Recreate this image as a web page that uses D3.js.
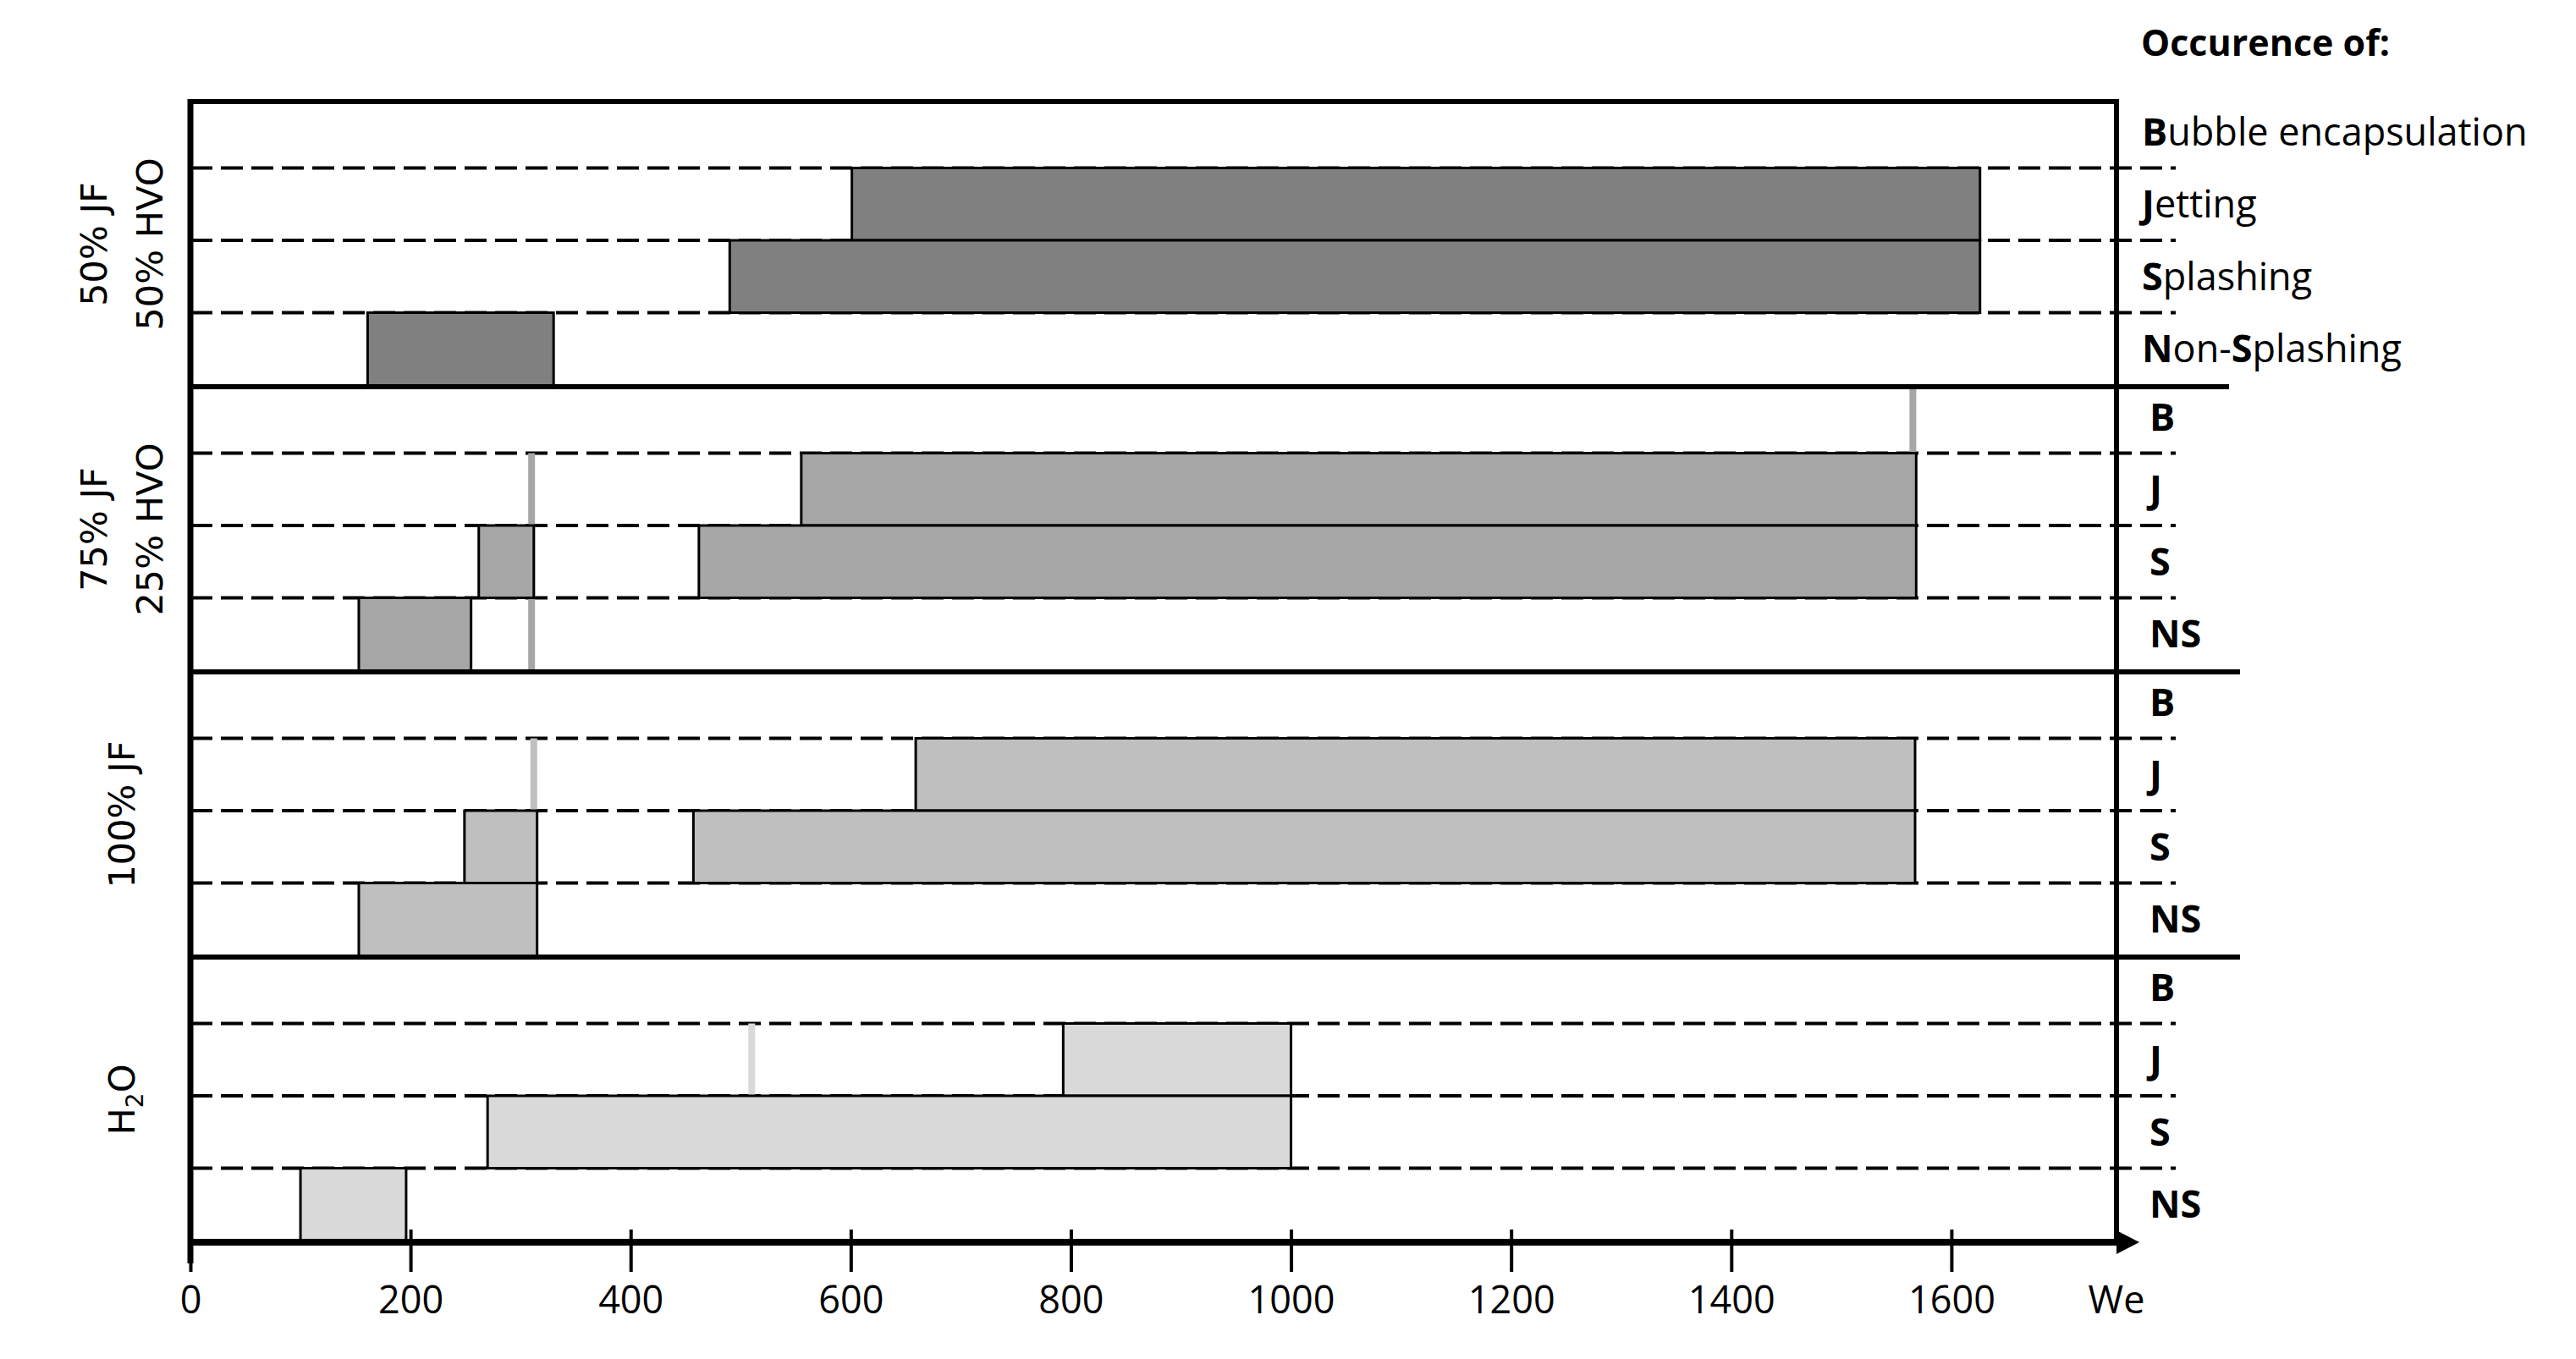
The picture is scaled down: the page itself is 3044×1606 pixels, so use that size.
<!DOCTYPE html>
<html>
<head>
<meta charset="utf-8">
<title>Impact regimes vs We</title>
<script src="https://cdn.jsdelivr.net/npm/d3@7"></script>
<style>
  body { margin: 0; background: #fff; }
  text { font-family: "Open Sans", sans-serif; fill: #000; }
  .fuel { font-family: "DejaVu Sans", sans-serif; }
</style>
</head>
<body>
<script>
// fuel blends, one panel each (top to bottom)
var fuels = ["50JF", "75JF", "100JF", "H2O"];
var fuelLabels = [["50% JF", "50% HVO"], ["75% JF", "25% HVO"], ["100% JF"], ["H_2O"]];
var fuelColors = ["#808080", "#a6a6a6", "#bfbfbf", "#d9d9d9"];

// regimes inside every panel (top to bottom)
var regimes = ["B", "J", "S", "NS"];
// label parts, [text, bold]
var regimeNames = [
  [["B", 1], ["ubble encapsulation", 0]],
  [["J", 1], ["etting", 0]],
  [["S", 1], ["plashing", 0]],
  [["N", 1], ["on-", 0], ["S", 1], ["plashing", 0]]
];

var weTicks = [0, 200, 400, 600, 800, 1000, 1200, 1400, 1600];

// We ranges where a regime was seen: [regime, from, to]
var jf50 = [["J", 601, 1626], ["S", 490, 1626], ["NS", 161, 330]];
var jf75 = [["J", 555, 1568], ["S", 262, 312], ["S", 462, 1568], ["NS", 153, 255]];
var jf100 = [["J", 659, 1567], ["S", 249, 315], ["S", 457, 1567], ["NS", 153, 315]];
var water = [["J", 793, 1000], ["S", 270, 1000], ["NS", 100, 196]];
var ranges = [jf50, jf75, jf100, water];

// thin grey marks: [panel, We, first regime, last regime]
var bubbleMarks = [[1, 310, "J", "NS"], [1, 1565, "B", "B"], [2, 312, "J", "J"], [3, 510, "J", "J"]];

// canvas
var width = 3044, height = 1606;
var xLeft = 225, xRight = 2501, yTop = 120, yBottom = 1468;

var svg = d3.select("body").append("svg")
    .attr("width", width)
    .attr("height", height);

var x = d3.scaleLinear().domain([0, 1750]).range([xLeft, xRight]);
var yPanel = d3.scaleBand().domain(fuels).range([yTop, yBottom]);
var panelH = yPanel.bandwidth();
var yRow = d3.scaleBand().domain(regimes).range([-7, panelH - 2]);

// dashed lines between the regimes
fuels.forEach(function(f) {
    svg.selectAll(null)
        .data(regimes.slice(1))
        .enter()
        .append("line")
            .attr("x1", xLeft)
            .attr("x2", xRight + 70)
            .attr("y1", function(r) { return yPanel(f) + yRow(r); })
            .attr("y2", function(r) { return yPanel(f) + yRow(r); })
            .attr("stroke", "#000")
            .attr("stroke-width", 4)
            .attr("stroke-dasharray", "26,10");
});

// grey marks
svg.selectAll(".mark")
    .data(bubbleMarks)
    .enter()
    .append("line")
        .attr("class", "mark")
        .attr("x1", function(d) { return x(d[1]); })
        .attr("x2", function(d) { return x(d[1]); })
        .attr("y1", function(d) { return yPanel(fuels[d[0]]) + Math.max(yRow(d[2]), 0); })
        .attr("y2", function(d) { return yPanel(fuels[d[0]]) + yRow(d[3]) + yRow.bandwidth(); })
        .attr("stroke", function(d) { return fuelColors[d[0]]; })
        .attr("stroke-width", 8);

// range bars
ranges.forEach(function(list, i) {
    svg.selectAll(null)
        .data(list)
        .enter()
        .append("rect")
            .attr("x", function(d) { return x(d[1]); })
            .attr("width", function(d) { return x(d[2]) - x(d[1]); })
            .attr("y", function(d) { return yPanel(fuels[i]) + yRow(d[0]); })
            .attr("height", function(d) { return d[0] == "NS" ? yRow.bandwidth() + 2 : yRow.bandwidth(); })
            .attr("fill", fuelColors[i])
            .attr("stroke", "#000")
            .attr("stroke-width", 3);
});

// frame
svg.append("line")
    .attr("x1", xLeft).attr("x2", xLeft)
    .attr("y1", yTop - 3).attr("y2", yBottom + 25)
    .attr("stroke", "#000").attr("stroke-width", 7);
svg.append("line")
    .attr("x1", xRight).attr("x2", xRight)
    .attr("y1", yTop - 3).attr("y2", yBottom)
    .attr("stroke", "#000").attr("stroke-width", 6);
svg.append("line")
    .attr("x1", xLeft).attr("x2", xRight + 3)
    .attr("y1", yTop).attr("y2", yTop)
    .attr("stroke", "#000").attr("stroke-width", 6);
svg.selectAll(".sep")
    .data(fuels.slice(1))
    .enter()
    .append("line")
        .attr("class", "sep")
        .attr("x1", xLeft)
        .attr("x2", function(d, i) { return i == 0 ? xRight + 133 : xRight + 146; })
        .attr("y1", function(d) { return yPanel(d); })
        .attr("y2", function(d) { return yPanel(d); })
        .attr("stroke", "#000")
        .attr("stroke-width", 6);

// x axis
var xAxis = d3.axisBottom(x).tickValues(weTicks).tickSize(35).tickFormat(d3.format("d"));
var ax = svg.append("g")
    .attr("transform", "translate(0," + yBottom + ")")
    .call(xAxis);
ax.select(".domain").remove();
ax.selectAll(".tick line")
    .attr("y1", -15)
    .attr("stroke", "#000")
    .attr("stroke-width", 4);
ax.selectAll(".tick text")
    .attr("y", 84)
    .attr("dy", 0)
    .style("font-family", "'Open Sans', sans-serif")
    .style("font-size", "45px")
    .attr("fill", "#000");

svg.append("line")
    .attr("x1", xLeft).attr("x2", xRight)
    .attr("y1", yBottom).attr("y2", yBottom)
    .attr("stroke", "#000").attr("stroke-width", 8);
svg.append("path")
    .attr("d", "M" + xRight + "," + (yBottom - 14) + "L" + (xRight + 27) + "," + yBottom + "L" + xRight + "," + (yBottom + 14) + "Z")
    .attr("fill", "#000");
svg.append("text")
    .attr("x", xRight)
    .attr("y", yBottom + 84)
    .attr("text-anchor", "middle")
    .style("font-size", "45px")
    .text("We");

// right hand regime labels
svg.append("text")
    .attr("x", xRight + 29)
    .attr("y", 66)
    .style("font-size", "43px")
    .style("font-weight", "bold")
    .text("Occurence of:");

fuels.forEach(function(f, i) {
    regimes.forEach(function(r, j) {
        var t = svg.append("text")
            .attr("x", i == 0 ? xRight + 30 : xRight + 39)
            .attr("y", yPanel(f) + yRow(r) + yRow.bandwidth() / 2)
            .attr("dy", "0.36em")
            .style("font-size", "45px");
        var parts = i == 0 ? regimeNames[j] : [[r, 1]];
        parts.forEach(function(p) {
            t.append("tspan")
                .style("font-weight", p[1] ? "bold" : "normal")
                .text(p[0]);
        });
    });
});

// left hand fuel labels (rotated)
fuelLabels.forEach(function(lines, i) {
    var cy = yPanel(fuels[i]) + panelH / 2;
    var g = svg.append("g")
        .attr("transform", "translate(0," + cy + ") rotate(-90)");
    lines.forEach(function(s, k) {
        var base = lines.length == 2 ? 126 + k * 66 : 159;
        var t = g.append("text")
            .attr("class", "fuel")
            .attr("x", 0)
            .attr("y", base)
            .attr("text-anchor", "middle")
            .style("font-size", "43px");
        if (s.indexOf("_") > -1) {
            var bits = s.split("_");
            t.append("tspan").text(bits[0]);
            t.append("tspan").attr("dy", 10).style("font-size", "28px").text(bits[1].charAt(0));
            t.append("tspan").attr("dy", -10).text(bits[1].slice(1));
        } else {
            t.text(s);
        }
    });
});
</script>
</body>
</html>
